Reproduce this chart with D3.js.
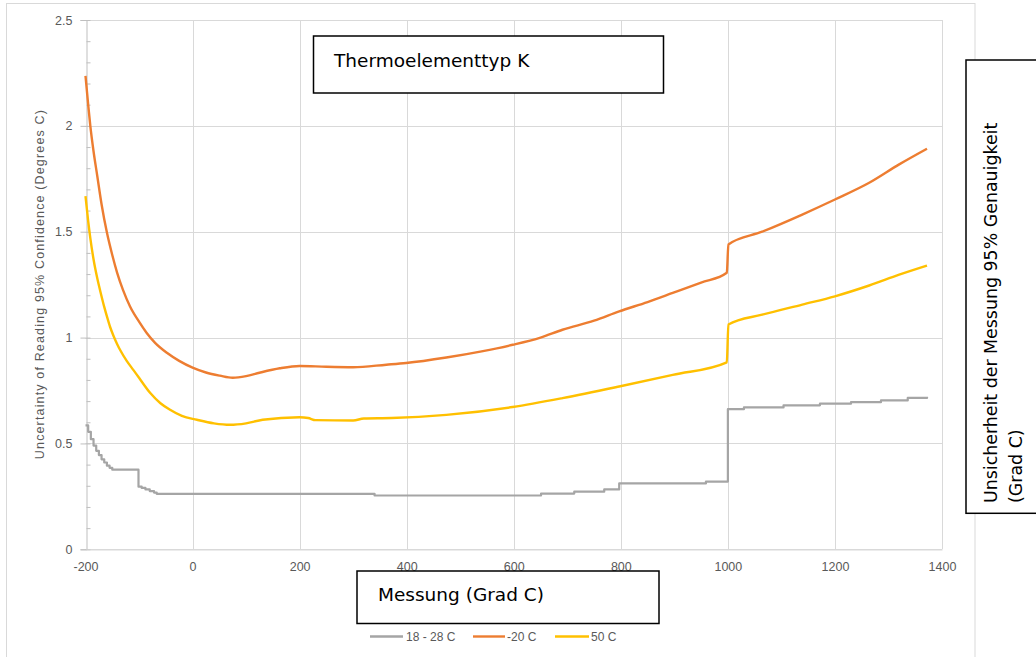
<!DOCTYPE html>
<html>
<head>
<meta charset="utf-8">
<script src="https://cdn.jsdelivr.net/npm/d3@7"></script>
<style>
  html, body { margin: 0; padding: 0; background: #fff; }
  svg { display: block; }
  text { font-family: "Liberation Sans", Arial, sans-serif; }
</style>
</head>
<body>
<svg id="chart" width="1036" height="657"></svg>
<script>
// ---- Data ----
const seriesNames = ["18 - 28 C", "-20 C", "50 C"];
const seriesColors = ["#A5A5A5", "#ED7D31", "#FFC000"];

// 18 - 28 C (stepped)
const greyT = [-200,-195,-190,-185,-180,-175,-170,-165,-160,-155,-150,-101,-95,-88,-80,-72,-67,340,651,713,769,797,959,1000,1030,1104,1172,1230,1286,1336,1372];
const greyV = [0.585,0.555,0.52,0.49,0.465,0.445,0.425,0.41,0.395,0.385,0.376,0.296,0.29,0.283,0.275,0.268,0.262,0.254,0.263,0.272,0.283,0.311,0.32,0.662,0.670,0.680,0.688,0.695,0.703,0.715,0.72];

// -20 C
const orangeT = [-200,-195,-191,-185,-178,-170,-160,-150,-141,-130,-117,-100,-86,-70,-48,-25,0,25,51,75,100,125,163,200,250,300,362,399,474,540,598,650,691,750,797,850,897,950,998,1001,1064,1139,1200,1264,1320,1372];
const orangeV = [2.236,2.10,2.00,1.88,1.763,1.63,1.496,1.39,1.307,1.225,1.148,1.075,1.023,0.975,0.928,0.89,0.858,0.835,0.82,0.81,0.818,0.834,0.855,0.866,0.862,0.86,0.872,0.88,0.906,0.935,0.966,1.0,1.037,1.08,1.124,1.168,1.211,1.26,1.306,1.44,1.50,1.581,1.652,1.731,1.818,1.892];

// 50 C
const yellowT = [-200,-195,-191,-185,-178,-171,-165,-160,-154,-148,-141,-135,-123,-110,-100,-79,-60,-42,-20,8,40,70,100,131,200,216,230,300,320,372,474,598,691,797,897,998,1001,1064,1139,1200,1264,1320,1372];
const yellowV = [1.668,1.55,1.47,1.37,1.28,1.205,1.145,1.10,1.05,1.01,0.97,0.94,0.89,0.845,0.81,0.738,0.69,0.659,0.63,0.612,0.595,0.588,0.595,0.612,0.624,0.62,0.61,0.608,0.618,0.62,0.635,0.672,0.714,0.769,0.824,0.883,1.062,1.108,1.156,1.195,1.246,1.297,1.34];

const xTicks = [-200,0,200,400,600,800,1000,1200,1400];
const yTicks = [0,0.5,1,1.5,2,2.5];
const yMinorTicks = d3.range(0, 2.501, 0.1);

const titleText = "Thermoelementtyp K";
const xTitleText = "Messung (Grad C)";
const yTitleText = "Uncertainty of Reading 95% Confidence (Degrees C)";
const rightTitleLines = ["Unsicherheit der Messung 95% Genauigkeit", "(Grad C)"];

// ---- Drawing ----
const svg = d3.select("#chart");
const x = d3.scaleLinear().domain([-200, 1400]).range([85.5, 942]);
const y = d3.scaleLinear().domain([0, 2.5]).range([549.3, 20]);

// chart area border
svg.append("rect").attr("x", 6.5).attr("y", 3.5).attr("width", 968.5).attr("height", 670)
  .attr("fill", "#fff").attr("stroke", "#D9D9D9").attr("stroke-width", 1);

// gridlines
svg.append("g").selectAll("line").data(yTicks).join("line")
  .attr("x1", x(-200)).attr("x2", x(1400))
  .attr("y1", d => Math.round(y(d)) + 0.5).attr("y2", d => Math.round(y(d)) + 0.5)
  .attr("stroke", "#D9D9D9").attr("stroke-width", 1);
svg.append("g").selectAll("line").data(xTicks.slice(1)).join("line")
  .attr("x1", d => Math.round(x(d)) + 0.5).attr("x2", d => Math.round(x(d)) + 0.5)
  .attr("y1", y(2.5)).attr("y2", y(0))
  .attr("stroke", "#D9D9D9").attr("stroke-width", 1);

// y axis (major ticks outside)
const yAxis = svg.append("g").attr("transform", `translate(${Math.round(x(-200)) + 0.5},0)`)
  .call(d3.axisLeft(y).tickValues(yTicks).tickSize(6).tickPadding(8).tickFormat(d => String(d)));
yAxis.select(".domain").attr("stroke", "#BFBFBF");
yAxis.selectAll(".tick line").attr("stroke", "#BFBFBF");
yAxis.selectAll(".tick text").attr("fill", "#595959").style("font-size", "12.5px")
  .style("font-family", "'Liberation Sans', Arial, sans-serif");
// minor ticks inside
const yMinor = svg.append("g").attr("transform", `translate(${Math.round(x(-200)) + 0.5},0)`)
  .call(d3.axisRight(y).tickValues(yMinorTicks).tickSize(4).tickFormat(""));
yMinor.select(".domain").remove();
yMinor.selectAll(".tick line").attr("stroke", "#BFBFBF");

// x axis
const xAxis = svg.append("g").attr("transform", `translate(0,${Math.round(y(0)) + 0.5})`)
  .call(d3.axisBottom(x).tickValues(xTicks).tickSize(0).tickPadding(13).tickFormat(d => String(d)));
xAxis.select(".domain").attr("stroke", "#D9D9D9");
xAxis.selectAll(".tick text").attr("fill", "#595959").style("font-size", "12.5px")
  .style("font-family", "'Liberation Sans', Arial, sans-serif");

// y axis title
svg.append("text")
  .attr("transform", `translate(44,${(y(0) + y(2.5)) / 2}) rotate(-90)`)
  .attr("text-anchor", "middle")
  .attr("fill", "#595959").style("font-size", "12.5px")
  .attr("textLength", 349).attr("lengthAdjust", "spacing")
  .text(yTitleText);

// series
const series = [
  { t: greyT, v: greyV, curve: d3.curveStepAfter, w: 2.2 },
  { t: orangeT, v: orangeV, curve: d3.curveMonotoneX, w: 2.4 },
  { t: yellowT, v: yellowV, curve: d3.curveMonotoneX, w: 2.4 }
];
series.forEach((s, i) => {
  const pts = s.t.map((t, k) => [t, s.v[k]]);
  const line = d3.line().x(d => x(d[0])).y(d => y(d[1])).curve(s.curve);
  svg.append("path").datum(pts).attr("d", line)
    .attr("fill", "none").attr("stroke", seriesColors[i]).attr("stroke-width", s.w)
    .attr("stroke-linejoin", "round");
});

// legend
const legendItems = [
  { x0: 370, x1: 403, tx: 406 },
  { x0: 473, x1: 505, tx: 507 },
  { x0: 555, x1: 589, tx: 591 }
];
const lg = svg.append("g");
legendItems.forEach((it, i) => {
  lg.append("line").attr("x1", it.x0).attr("x2", it.x1).attr("y1", 636.5).attr("y2", 636.5)
    .attr("stroke", seriesColors[i]).attr("stroke-width", 2.4);
  lg.append("text").attr("x", it.tx).attr("y", 641).attr("fill", "#595959")
    .style("font-size", "12px").text(seriesNames[i]);
});

// title box
svg.append("rect").attr("x", 313.5).attr("y", 36).attr("width", 350).attr("height", 57)
  .attr("fill", "#fff").attr("stroke", "#000").attr("stroke-width", 1.5);
svg.append("text").attr("x", 334).attr("y", 66.5)
  .style("font-family", "'DejaVu Sans', Verdana, sans-serif").style("font-size", "18.5px")
  .attr("fill", "#000").text(titleText);

// x title box
svg.append("rect").attr("x", 357).attr("y", 571).attr("width", 302).attr("height", 52.5)
  .attr("fill", "#fff").attr("stroke", "#000").attr("stroke-width", 1.5);
svg.append("text").attr("x", 378).attr("y", 600.5)
  .style("font-family", "'DejaVu Sans', Verdana, sans-serif").style("font-size", "18.5px")
  .attr("fill", "#000").text(xTitleText);

// right title box
svg.append("rect").attr("x", 966).attr("y", 60).attr("width", 90).attr("height", 453.3)
  .attr("fill", "#fff").attr("stroke", "#000").attr("stroke-width", 1.5);
rightTitleLines.forEach((ln, i) => {
  svg.append("text")
    .attr("transform", `translate(${996.5 + i * 25.5},503) rotate(-90)`)
    .style("font-family", "'DejaVu Sans', Verdana, sans-serif").style("font-size", "17.4px")
    .attr("fill", "#000").text(ln);
});
</script>
</body>
</html>
